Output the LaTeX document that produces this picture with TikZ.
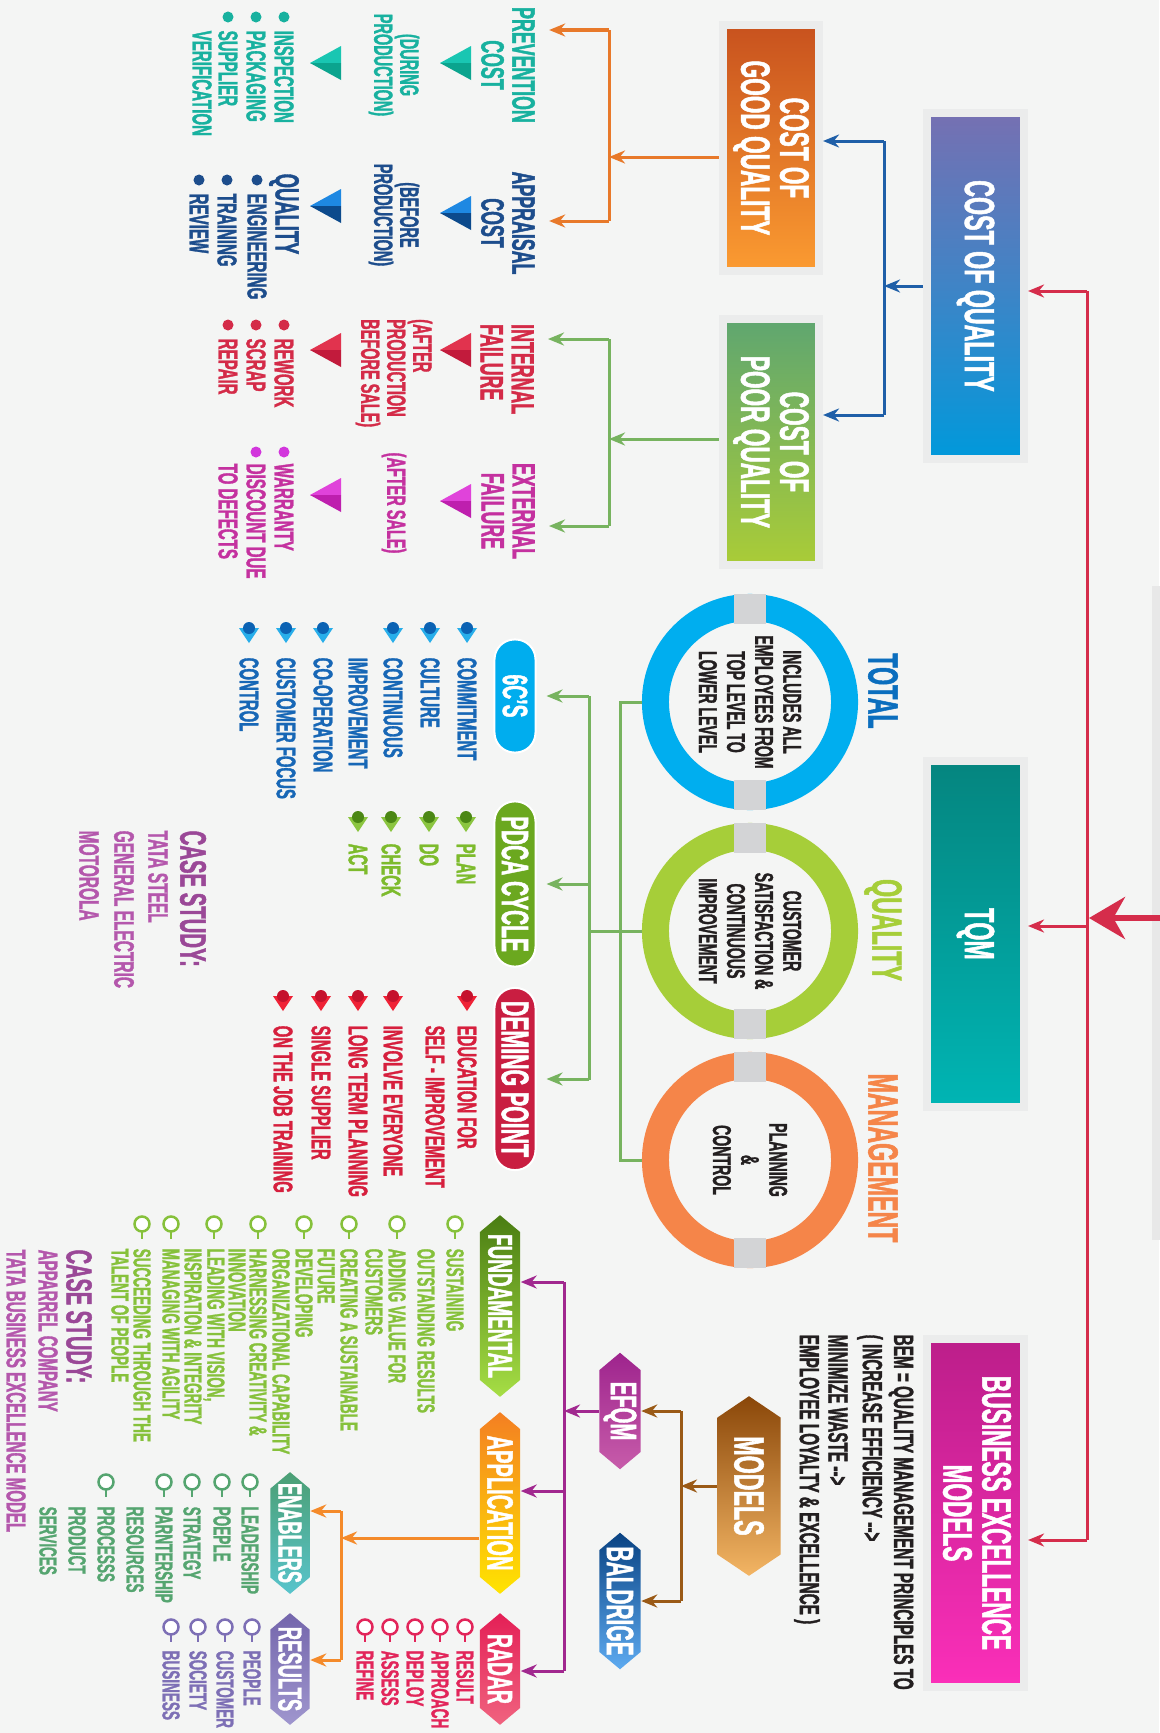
\documentclass[tikz,border=0pt]{standalone}
\usepackage{fontspec}
\setmainfont{Liberation Sans}[FakeStretch=0.55, BoldFeatures={FakeBold=1.2}]
\usetikzlibrary{arrows.meta,shapes.symbols}

\definecolor{bg}{HTML}{F4F5F4}
\definecolor{frame}{HTML}{EBECEC}
\definecolor{band}{HTML}{D3D4D6}
\definecolor{darktx}{HTML}{231F20}
% connector colours
\definecolor{redln}{HTML}{D52D4B}
\definecolor{blueln}{HTML}{1F5FA8}
\definecolor{orangeln}{HTML}{E8792A}
\definecolor{greenln}{HTML}{77B35F}
\definecolor{brownln}{HTML}{9A5A16}
\definecolor{purpleln}{HTML}{A1288F}
\definecolor{appln}{HTML}{F48A2A}
% box colours
\definecolor{coqtop}{HTML}{7670B2}\definecolor{coqmid}{HTML}{3F84C6}\definecolor{coqbot}{HTML}{0099DB}
\definecolor{tqmtop}{HTML}{05857F}\definecolor{tqmbot}{HTML}{00B5B4}
\definecolor{bemtop}{HTML}{BC1E8A}\definecolor{bembot}{HTML}{FB2FB9}
\definecolor{cogqtop}{HTML}{C8521E}\definecolor{cogqbot}{HTML}{FB9B31}
\definecolor{copqtop}{HTML}{5FA670}\definecolor{copqbot}{HTML}{AACC37}
\definecolor{fundtop}{HTML}{4A7D12}\definecolor{fundbot}{HTML}{A6DE45}
\definecolor{appltop}{HTML}{F47F22}\definecolor{applbot}{HTML}{FFE400}
\definecolor{radtop}{HTML}{E41F56}\definecolor{radbot}{HTML}{F0637F}
\definecolor{enabtop}{HTML}{4B9F74}\definecolor{enabbot}{HTML}{58C4CC}
\definecolor{restop}{HTML}{7466AC}\definecolor{resbot}{HTML}{9F96CE}
\definecolor{efqmtop}{HTML}{9E248D}\definecolor{efqmbot}{HTML}{C75CAA}
\definecolor{baldtop}{HTML}{0A4383}\definecolor{baldbot}{HTML}{5DAAF0}
\definecolor{modtop}{HTML}{8A4709}\definecolor{modbot}{HTML}{F3B564}
\definecolor{sixfill}{HTML}{00ADEE}\definecolor{pdcafill}{HTML}{6BA81F}\definecolor{demfill}{HTML}{C91E41}
% text colours
\definecolor{tealtx}{HTML}{18B19F}
\definecolor{navytx}{HTML}{1D4D8C}
\definecolor{crimtx}{HTML}{D42B48}
\definecolor{magtx}{HTML}{C4319F}
\definecolor{magdot}{HTML}{D236DC}
\definecolor{sixtx}{HTML}{1767B6}
\definecolor{pdcatx}{HTML}{7DBB2C}
\definecolor{demtx}{HTML}{D61F3D}
\definecolor{casehd}{HTML}{9A4897}
\definecolor{casetx}{HTML}{B457AC}
\definecolor{fundtx}{HTML}{86C13B}
\definecolor{enabtx}{HTML}{55A570}
\definecolor{restx}{HTML}{7D6FB5}
\definecolor{radtx}{HTML}{E2255A}
\definecolor{totalc}{HTML}{00AEEF}
\definecolor{totaltx}{HTML}{0B6EBE}
\definecolor{qualc}{HTML}{A6CE39}
\definecolor{mgmtc}{HTML}{F58549}
% marker colours
\definecolor{teallt}{HTML}{19C6B2}\definecolor{tealdk}{HTML}{0BA48E}
\definecolor{bluelt}{HTML}{1E88E2}\definecolor{bluedk}{HTML}{0C4A8C}
\definecolor{crimlt}{HTML}{E1334E}\definecolor{crimdk}{HTML}{C21B3C}
\definecolor{maglt}{HTML}{E043DA}\definecolor{magdk}{HTML}{BE1FAE}
\definecolor{sixdk}{HTML}{0B62B3}\definecolor{sixlt}{HTML}{28AEEA}
\definecolor{pdcadk}{HTML}{4B8714}\definecolor{pdcalt}{HTML}{8BC540}
\definecolor{demdk}{HTML}{C5122D}\definecolor{demlt}{HTML}{EF2236}

% markers
\newcommand\costpyr[4]{% tip col, row, light, dark
  \fill[#3] (#1,#2) -- (#1+31,#2-17) -- (#1+31,#2) -- cycle;
  \fill[#4] (#1,#2) -- (#1+31,#2) -- (#1+31,#2+17) -- cycle;}
\newcommand\markpin[4]{% col, top row, dark, light
  \fill[#4] (#1-10,#2+6) -- (#1+10,#2+6) -- (#1,#2+21) -- cycle;
  \fill[#3] (#1,#2+6) circle (0.06cm);}
\newcommand\ringpin[3]{% col, row, colour
  \draw[#3, line width=0.025cm, fill=white] (#1,#2) circle (0.075cm);
  \draw[#3, line width=0.015cm] (#1,#2+8) -- (#1,#2+15);}

\begin{document}
\begin{tikzpicture}[x=0.01cm, y=-0.01cm, >={Stealth[length=0.16cm,width=0.13cm]},
  txt/.style 2 args={rotate=-90, inner sep=1pt, align=center, font=\bfseries\fontsize{#1}{#2}\selectfont},
  item/.style={rotate=-90, inner sep=0pt, anchor=west, font=\bfseries\fontsize{#1}{#1}\selectfont},
  box/.style={rectangle, draw=frame, line width=0.08cm, inner sep=0pt, minimum width=0.97cm},
  ring/.style={circle, line width=0.27cm, minimum size=1.89cm, inner sep=0pt},
  pill/.style={rectangle, rounded corners=0.2cm, minimum width=0.41cm, inner sep=0pt, draw=white, line width=0.02cm},
  hex/.style={signal, signal to=north and south, signal pointer angle=100, inner sep=0pt, minimum width=0.40cm},
  link/.style={line width=0.03cm, draw=#1}]

\fill[bg] (0,0) rectangle (1159,1733);
\useasboundingbox (0,0) rectangle (1159,1733);
\fill[black!9] (1152,586) rectangle (1170,1240);

% main boxes
\node[box, minimum height=3.46cm, top color=coqtop, bottom color=coqbot, middle color=coqmid] (coq) at (975.5,286) {};
\node[box, minimum height=3.46cm, top color=tqmtop, bottom color=tqmbot] (tqm) at (975.5,934) {};
\node[box, minimum height=3.48cm, top color=bemtop, bottom color=bembot] (bem) at (975.5,1513) {};
\node[txt={12}{11.1}, text=white] (coq-t) at (coq) {COST OF QUALITY};
\node[txt={12}{11.1}, text=white] (tqm-t) at (tqm) {TQM};
\node[txt={11.7}{11.1}, text=white] (bem-t) at (977,1513) {BUSINESS EXCELLENCE\\MODELS};

\coordinate (r1) at (1087,291);
\coordinate (r2) at (1087,926);
\coordinate (r3) at (1087,1540);
\coordinate (src) at (1175,918);
\coordinate (rj) at (1089,918);
\draw[link=redln] (r1) -- (r3);
\draw[link=redln, ->] (r1) -- (r1 -| coq.east);
\draw[link=redln, ->] (r2) -- (r2 -| tqm.east);
\draw[link=redln, ->] (r3) -- (r3 -| bem.east);
\draw[redln, line width=0.055cm, -{Stealth[length=0.36cm,width=0.42cm]}] (src) -- (rj);

% cost of quality
\node[box, minimum width=0.96cm, minimum height=2.45cm, top color=cogqtop, bottom color=cogqbot] (cogq) at (771,148) {};
\node[box, minimum width=0.96cm, minimum height=2.46cm, top color=copqtop, bottom color=copqbot] (copq) at (771,442) {};
\node[txt={11.7}{11.1}, text=white] (cogq-t) at (cogq) {COST OF\\GOOD QUALITY};
\node[txt={11.7}{11.1}, text=white] (copq-t) at (copq) {COST OF\\POOR QUALITY};

\coordinate (bj) at (884,286);
\coordinate (b1) at (884,141);
\coordinate (b2) at (884,415);
\draw[link=blueln, ->] (coq.west) -- (bj);
\draw[link=blueln] (b1) -- (b2);
\draw[link=blueln, ->] (b1) -- (b1 -| cogq.east);
\draw[link=blueln, ->] (b2) -- (b2 -| copq.east);

\node[txt={9.2}{8.8}, text=tealtx] (prev) at (508,65) {PREVENTION\\COST};
\node[txt={9.2}{8.8}, text=navytx] (appr) at (508,223) {APPRAISAL\\COST};
\node[txt={9.2}{8.8}, text=crimtx, align=left, anchor=west] (intf) at (507,320) {INTERNAL\\FAILURE};
\node[txt={9.2}{8.8}, text=magtx] (extf) at (508,511) {EXTERNAL\\FAILURE};

\coordinate (oj) at (609,157);
\coordinate (o1) at (609,30);
\coordinate (o2) at (609,221);
\draw[link=orangeln, ->] (cogq.west |- oj) -- (oj);
\draw[link=orangeln] (o1) -- (o2);
\draw[link=orangeln, ->, shorten >=0.1cm] (o1) -- (o1 -| prev.north);
\draw[link=orangeln, ->, shorten >=0.1cm] (o2) -- (o2 -| appr.north);

\coordinate (gj) at (609,439);
\coordinate (g1) at (609,339);
\coordinate (g2) at (609,526);
\draw[link=greenln, ->] (copq.west |- gj) -- (gj);
\draw[link=greenln] (g1) -- (g2);
\draw[link=greenln, ->, shorten >=0.1cm] (g1) -- (g1 -| intf.north);
\draw[link=greenln, ->, shorten >=0.1cm] (g2) -- (g2 -| extf.north);

\costpyr{440}{63}{teallt}{tealdk} \costpyr{310}{63}{teallt}{tealdk}
\costpyr{440}{213}{bluelt}{bluedk} \costpyr{310}{206}{bluelt}{bluedk}
\costpyr{440}{350}{crimlt}{crimdk} \costpyr{310}{350}{crimlt}{crimdk}
\costpyr{440}{501}{maglt}{magdk} \costpyr{310}{495}{maglt}{magdk}

\node[txt={7.5}{7.4}, text=tealtx] (prev-s) at (394,65) {(DURING\\PRODUCTION)};
\node[txt={7.5}{7.4}, text=navytx] (appr-s) at (394,215) {(BEFORE\\PRODUCTION)};
\node[txt={7.5}{7.4}, text=crimtx, align=left, anchor=west] (intf-s) at (394,315) {(AFTER\\PRODUCTION\\BEFORE SALE)};
\node[txt={7.5}{7.4}, text=magtx] (extf-s) at (394,503) {(AFTER SALE)};

\foreach \cl/\tx/\mk in {284/INSPECTION/1, 256/PACKAGING/1, 228/SUPPLIER/1, 202/VERIFICATION/0}
  {\node[item=7.8, text=tealtx] (prev-\cl) at (\cl,30) {\tx}; \ifnum\mk=1 \fill[tealtx] (\cl,17) circle (0.055cm);\fi}
\node[item=9.5, text=navytx] (appr-q) at (284,173) {QUALITY};
\foreach \cl/\tx in {257/ENGINEERING, 227/TRAINING, 199/REVIEW}
  {\node[item=7.8, text=navytx] (appr-\cl) at (\cl,193) {\tx}; \fill[navytx] (\cl,180) circle (0.055cm);}
\foreach \cl/\tx in {284/REWORK, 256/SCRAP, 228/REPAIR}
  {\node[item=7.8, text=crimtx] (intf-\cl) at (\cl,338) {\tx}; \fill[crimtx] (\cl,325) circle (0.055cm);}
\foreach \cl/\tx/\mk in {284/WARRANTY/1, 256/DISCOUNT DUE/1, 228/TO DEFECTS/0}
  {\node[item=7.8, text=magtx] (extf-\cl) at (\cl,463) {\tx}; \ifnum\mk=1 \fill[magdot] (\cl,452) circle (0.055cm);\fi}

% tqm
\node[ring, draw=totalc] (total) at (750,702) {};
\node[ring, draw=qualc] (qual) at (750,931) {};
\node[ring, draw=mgmtc] (mgmt) at (750,1160) {};
\foreach \r in {total,qual,mgmt} {
  \fill[band] (\r.north) ++(-16,0) rectangle ++(32,30);
  \fill[band] (\r.south) ++(-16,0) rectangle ++(32,-30);
}
\node[txt={12}{12}, text=totaltx] (total-l) at (883,691) {TOTAL};
\node[txt={12}{12}, text=qualc] (qual-l) at (883,930) {QUALITY};
\node[txt={12}{12}, text=mgmtc] (mgmt-l) at (883,1158) {MANAGEMENT};
\node[txt={7.3}{8}, text=darktx] (total-t) at (total) {INCLUDES ALL\\EMPLOYEES FROM\\TOP LEVEL TO\\LOWER LEVEL};
\node[txt={7.3}{8}, text=darktx] (qual-t) at (qual) {CUSTOMER\\SATISFACTION \&\\CONTINUOUS\\IMPROVEMENT};
\node[txt={7.3}{8}, text=darktx] (mgmt-t) at (mgmt) {PLANNING\\\&\\CONTROL};

\node[pill, minimum height=1.13cm, fill=sixfill] (sixc) at (515,696) {};
\node[pill, minimum height=1.65cm, fill=pdcafill] (pdca) at (515,884) {};
\node[pill, minimum height=1.82cm, fill=demfill] (deming) at (515,1079) {};
\node[txt={10}{10}, text=white] (sixc-t) at (sixc) {6C’S};
\node[txt={10.8}{10}, text=white] (pdca-t) at (pdca) {PDCA CYCLE};
\node[txt={11}{10}, text=white] (deming-t) at (deming) {DEMING POINT};

\coordinate (va1) at (620,702);
\coordinate (va2) at (620,1160);
\coordinate (vbt) at (589,696);
\coordinate (vbb) at (589,1080);
\draw[link=greenln] (total.west) -- (va1) -- (va2) -- (mgmt.west);
\draw[link=greenln] (qual.west) -- (qual.west -| vbt);
\draw[link=greenln] (vbt) -- (vbb);
\draw[link=greenln, ->, shorten >=0.1cm] (vbt) -- (sixc.east);
\draw[link=greenln, ->, shorten >=0.1cm] (pdca.east -| vbt) -- (pdca.east);
\draw[link=greenln, ->, shorten >=0.1cm] (deming.east -| vbt) -- (deming.east);

\foreach \cl/\tx/\mk in {467/COMMITMENT/1, 430/CULTURE/1, 393/CONTINUOUS/1, 358/IMPROVEMENT/0, 323/CO-OPERATION/1, 286/CUSTOMER FOCUS/1, 249/CONTROL/1}
  {\node[item=7.7, text=sixtx] (six-\cl) at (\cl,657) {\tx}; \ifnum\mk=1 \markpin{\cl}{622}{sixdk}{sixlt}\fi}
\foreach \cl/\tx in {466/PLAN, 429/DO, 391/CHECK, 358/ACT}
  {\node[item=7.7, text=pdcatx] (pdca-\cl) at (\cl,843) {\tx}; \markpin{\cl}{811}{pdcadk}{pdcalt}}
\foreach \cl/\tx/\mk in {467/EDUCATION FOR/1, 435/SELF - IMPROVEMENT/0, 393/INVOLVE EVERYONE/1, 358/LONG TERM PLANNING/1, 321/SINGLE SUPPLIER/1, 283/ON THE JOB TRAINING/1}
  {\node[item=7.7, text=demtx] (dem-\cl) at (\cl,1025) {\tx}; \ifnum\mk=1 \markpin{\cl}{990}{demdk}{demlt}\fi}

\node[item=10.5, text=casehd] (case1) at (193,830) {CASE STUDY:};
\foreach \cl/\tx in {158/TATA STEEL, 124/GENERAL ELECTRIC, 89/MOTOROLA}
  {\node[item=8, text=casetx] (case1-\cl) at (\cl,830) {\tx};}

% business excellence models
\foreach \cl/\tx in {901/{BEM = QUALITY MANAGEMENT PRINCIPLES TO}, 870/{( INCREASE EFFICIENCY -{}->}, 838/{MINIMIZE WASTE -{}->}, 807/{EMPLOYEE LOYALTY \& EXCELLENCE )}}
  {\node[item=7.9, text=darktx] (bemd-\cl) at (\cl,1334) {\tx};}

\node[hex, minimum width=0.63cm, minimum height=1.37cm, signal pointer angle=112, top color=modtop, bottom color=modbot] (models) at (749,1486) {};
\node[hex, minimum width=0.41cm, minimum height=0.82cm, top color=efqmtop, bottom color=efqmbot] (efqm) at (620,1411) {};
\node[hex, minimum width=0.41cm, minimum height=1.02cm, top color=baldtop, bottom color=baldbot] (bald) at (620,1601) {};
\node[hex, minimum height=1.48cm, top color=fundtop, bottom color=fundbot] (fund) at (500,1306) {};
\node[hex, minimum height=1.48cm, top color=appltop, bottom color=applbot] (appl) at (500,1503) {};
\node[hex, minimum height=0.78cm, top color=radtop, bottom color=radbot] (radar) at (500,1669) {};
\node[hex, minimum width=0.39cm, minimum height=0.89cm, top color=enabtop, bottom color=enabbot] (enab) at (290,1533) {};
\node[hex, minimum width=0.39cm, minimum height=0.79cm, top color=restop, bottom color=resbot] (res) at (290,1669) {};
\node[txt={12}{12}, text=white] (models-t) at (models) {MODELS};
\node[txt={10.5}{10}, text=white] (efqm-t) at (efqm) {EFQM};
\node[txt={10.8}{10}, text=white] (bald-t) at (bald) {BALDRIGE};
\node[txt={9.8}{10}, text=white] (fund-t) at (fund) {FUNDAMENTAL};
\node[txt={10.4}{10}, text=white] (appl-t) at (appl) {APPLICATION};
\node[txt={10}{10}, text=white] (radar-t) at (radar) {RADAR};
\node[txt={9.4}{10}, text=white] (enab-t) at (enab) {ENABLERS};
\node[txt={9.5}{10}, text=white] (res-t) at (res) {RESULTS};

\coordinate (mj) at (681,1486);
\draw[link=brownln, ->] (models.west) -- (mj);
\draw[link=brownln] (mj |- efqm) -- (mj |- bald);
\draw[link=brownln, ->] (mj |- efqm) -- (efqm.east);
\draw[link=brownln, ->] (mj |- bald) -- (bald.east);

\coordinate (p1) at (564,1282);
\coordinate (p2) at (564,1491);
\coordinate (p3) at (564,1671);
\draw[link=purpleln, ->] (efqm.west) -- (efqm.west -| p1);
\draw[link=purpleln] (p1) -- (p3);
\draw[link=purpleln, ->] (p1) -- (p1 -| fund.east);
\draw[link=purpleln, ->] (p2) -- (p2 -| appl.east);
\draw[link=purpleln, ->] (p3) -- (p3 -| radar.east);

\coordinate (aj) at (341,1538);
\coordinate (a1) at (341,1511);
\coordinate (a2) at (341,1660);
\draw[link=appln, ->] (appl.west |- aj) -- (aj);
\draw[link=appln] (a1) -- (a2);
\draw[link=appln, ->] (a1) -- (a1 -| enab.east);
\draw[link=appln, ->] (a2) -- (a2 -| res.east);

\foreach \cl/\tx/\mk in {455/SUSTAINING/1, 426/OUTSTANDING RESULTS/0, 397/ADDING VALUE FOR/1, 374/CUSTOMERS/0, 349/CREATING A SUSTAINABLE/1, 326/FUTURE/0, 304/DEVELOPING/1, 281/ORGANIZATIONAL CAPABILITY/0, 258/HARNESSING CREATIVITY \&/1, 237/INNOVATION/0, 214/{LEADING WITH VISION,}/1, 193/INSPIRATION \& INTEGRITY/0, 171/MANAGING WITH AGILITY/1, 142/SUCCEEDING THROUGH THE/1, 120/TALENT OF PEOPLE/0}
  {\node[item=7, text=fundtx] (fund-\cl) at (\cl,1248) {\tx}; \ifnum\mk=1 \ringpin{\cl}{1224}{fundtx}\fi}
\foreach \cl/\tx/\mk in {250/LEADERSHIP/1, 222/POEPLE/1, 192/STRATEGY/1, 164/PARNTERSHIP/1, 135/RESOURCES/0, 106/PROCESSS/1, 77/PRODUCT/0, 48/SERVICES/0}
  {\node[item=7, text=enabtx] (enab-\cl) at (\cl,1506) {\tx}; \ifnum\mk=1 \ringpin{\cl}{1482}{enabtx}\fi}
\foreach \cl/\tx in {252/PEOPLE, 225/CUSTOMER, 198/SOCIETY, 171/BUSINESS}
  {\node[item=7, text=restx] (res-\cl) at (\cl,1650) {\tx}; \ringpin{\cl}{1627}{restx}}
\foreach \cl/\tx in {465/RESULT, 440/APPROACH, 415/DEPLOY, 390/ASSESS, 365/REFINE}
  {\node[item=7, text=radtx] (radar-\cl) at (\cl,1650) {\tx}; \ringpin{\cl}{1627}{radtx}}

\node[item=10.3, text=casehd] (case2) at (79,1249) {CASE STUDY:};
\foreach \cl/\tx in {48/APPARREL COMPANY, 16/TATA BUSINESS EXCELLENCE MODEL}
  {\node[item=7.8, text=casetx] (case2-\cl) at (\cl,1249) {\tx};}
\end{tikzpicture}
\end{document}
